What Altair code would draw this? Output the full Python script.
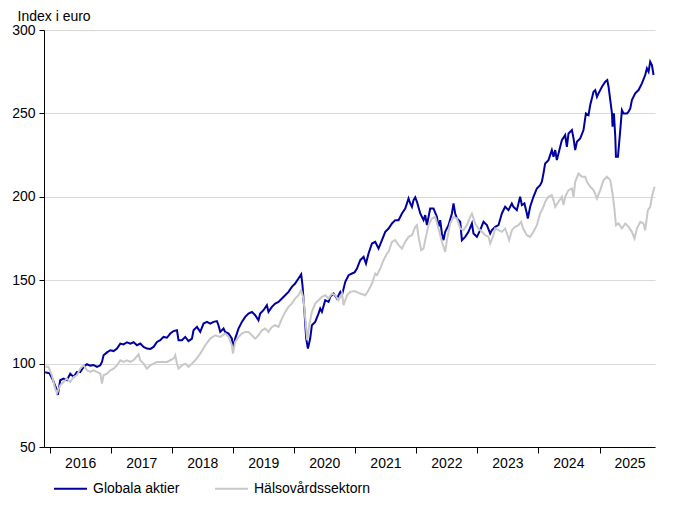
import altair as alt
import pandas as pd
import numpy as np

# Decimal years and index values
global_t = [2015.918, 2015.989, 2016.044, 2016.098, 2016.126, 2016.164, 2016.218, 2016.274, 2016.328, 2016.382,
            2016.437, 2016.492, 2016.546, 2016.601, 2016.655, 2016.709, 2016.765, 2016.819, 2016.847, 2016.873,
            2016.929, 2016.983, 2017.037, 2017.093, 2017.147, 2017.201, 2017.257, 2017.311, 2017.365, 2017.421,
            2017.475, 2017.529, 2017.584, 2017.639, 2017.693, 2017.748, 2017.802, 2017.856, 2017.912, 2017.966,
            2018.020, 2018.076, 2018.102, 2018.158, 2018.212, 2018.266, 2018.322, 2018.348, 2018.404, 2018.458,
            2018.512, 2018.568, 2018.622, 2018.676, 2018.731, 2018.757, 2018.786, 2018.840, 2018.867, 2018.922,
            2018.977, 2018.994, 2019.031, 2019.085, 2019.141, 2019.195, 2019.249, 2019.305, 2019.359, 2019.413,
            2019.441, 2019.495, 2019.551, 2019.577, 2019.633, 2019.687, 2019.741, 2019.797, 2019.851, 2019.905,
            2019.960, 2020.014, 2020.068, 2020.113, 2020.134, 2020.167, 2020.195, 2020.223, 2020.260, 2020.288,
            2020.342, 2020.396, 2020.424, 2020.452, 2020.506, 2020.560, 2020.588, 2020.642, 2020.698, 2020.752,
            2020.780, 2020.834, 2020.888, 2020.944, 2020.986, 2021.025, 2021.079, 2021.134, 2021.173, 2021.215,
            2021.271, 2021.325, 2021.379, 2021.435, 2021.489, 2021.543, 2021.599, 2021.653, 2021.707, 2021.763,
            2021.817, 2021.871, 2021.899, 2021.927, 2021.953, 2021.981, 2022.009, 2022.063, 2022.117, 2022.144,
            2022.172, 2022.226, 2022.280, 2022.336, 2022.362, 2022.390, 2022.418, 2022.444, 2022.472, 2022.526,
            2022.582, 2022.608, 2022.636, 2022.664, 2022.718, 2022.746, 2022.800, 2022.854, 2022.910, 2022.936,
            2022.992, 2023.046, 2023.100, 2023.156, 2023.210, 2023.238, 2023.292, 2023.346, 2023.401, 2023.455,
            2023.509, 2023.565, 2023.591, 2023.647, 2023.701, 2023.729, 2023.771, 2023.811, 2023.827, 2023.865,
            2023.919, 2023.975, 2024.029, 2024.057, 2024.083, 2024.111, 2024.165, 2024.220, 2024.247, 2024.275,
            2024.302, 2024.329, 2024.384, 2024.438, 2024.466, 2024.493, 2024.548, 2024.575, 2024.602, 2024.630,
            2024.684, 2024.738, 2024.777, 2024.820, 2024.848, 2024.902, 2024.930, 2024.958, 2024.984, 2025.040,
            2025.094, 2025.127, 2025.148, 2025.176, 2025.204, 2025.213, 2025.236, 2025.258, 2025.269, 2025.302,
            2025.340, 2025.367, 2025.394, 2025.450, 2025.476, 2025.504, 2025.531, 2025.585, 2025.640, 2025.695,
            2025.749, 2025.777, 2025.804, 2025.831, 2025.859, 2025.886]
global_v = [94.8, 94.2, 90.2, 85.2, 81.2, 90, 91, 90, 94, 92,
            95, 95, 98, 99.6, 98.8, 99.2, 98, 99, 101, 105,
            106.7, 108, 107.5, 109, 112, 111.5, 112.8, 112, 112.8, 111,
            112, 110, 109, 108.8, 110, 113, 114, 116, 115.5, 118,
            119.5, 120, 114, 114, 116, 113.5, 115, 120, 122, 119,
            124, 125, 124, 125, 125.5, 123, 119, 121, 119, 118,
            115, 109, 115, 121, 125, 128, 130, 131, 129, 126,
            130, 132, 135, 131, 134, 136, 137, 139, 141, 143,
            146, 148, 151, 153.5, 147, 131, 115, 109, 115, 123,
            125, 130, 133, 131, 138, 137, 140, 142, 139, 143,
            141, 149, 153, 154, 154.7, 157, 162, 164, 160, 166,
            172, 173, 169, 174, 179, 181, 184, 186, 186, 190,
            193, 199, 196, 194, 198, 199.7, 197, 190, 186, 189,
            183, 193, 193, 188, 182, 186, 178, 174, 179, 183,
            190, 196, 190, 187, 185, 174, 176, 179, 184, 178,
            176, 180, 185, 183, 178, 180, 182, 183, 190, 194,
            192, 196, 194, 192, 200, 195, 196, 190, 187, 194,
            200, 205, 207, 209, 214, 220, 222, 228, 224, 228,
            222, 226, 234, 237, 230, 238, 240, 235, 228, 233,
            235, 240, 250, 249, 255, 263, 264, 260, 262, 266,
            269, 270, 266, 258, 250, 242, 250, 236, 224, 224,
            240, 252, 250, 250, 251, 253, 258, 262, 264, 268,
            273, 277, 275, 281, 279, 273]

health_t = [2015.918, 2015.972, 2016.028, 2016.082, 2016.110, 2016.164, 2016.218, 2016.274, 2016.328, 2016.382,
            2016.437, 2016.492, 2016.546, 2016.601, 2016.655, 2016.709, 2016.765, 2016.819, 2016.847, 2016.873,
            2016.929, 2016.983, 2017.037, 2017.093, 2017.147, 2017.201, 2017.257, 2017.311, 2017.365, 2017.447,
            2017.475, 2017.529, 2017.584, 2017.639, 2017.693, 2017.748, 2017.802, 2017.856, 2017.912, 2017.966,
            2018.020, 2018.048, 2018.076, 2018.102, 2018.158, 2018.212, 2018.266, 2018.322, 2018.376, 2018.458,
            2018.540, 2018.622, 2018.704, 2018.786, 2018.867, 2018.922, 2018.977, 2018.994, 2019.031, 2019.085,
            2019.141, 2019.195, 2019.249, 2019.305, 2019.359, 2019.413, 2019.469, 2019.523, 2019.577, 2019.633,
            2019.687, 2019.741, 2019.797, 2019.851, 2019.905, 2019.960, 2020.014, 2020.068, 2020.113, 2020.150,
            2020.190, 2020.211, 2020.244, 2020.288, 2020.342, 2020.396, 2020.452, 2020.506, 2020.560, 2020.616,
            2020.670, 2020.724, 2020.780, 2020.806, 2020.862, 2020.916, 2020.986, 2021.079, 2021.161, 2021.215,
            2021.271, 2021.325, 2021.353, 2021.407, 2021.461, 2021.517, 2021.543, 2021.599, 2021.653, 2021.707,
            2021.763, 2021.817, 2021.871, 2021.927, 2021.981, 2022.009, 2022.035, 2022.079, 2022.117, 2022.144,
            2022.199, 2022.254, 2022.308, 2022.362, 2022.418, 2022.472, 2022.500, 2022.554, 2022.608, 2022.664,
            2022.718, 2022.772, 2022.828, 2022.882, 2022.910, 2022.964, 2023.018, 2023.074, 2023.128, 2023.182,
            2023.210, 2023.264, 2023.292, 2023.346, 2023.401, 2023.455, 2023.521, 2023.565, 2023.619, 2023.673,
            2023.717, 2023.750, 2023.811, 2023.865, 2023.919, 2023.975, 2024.029, 2024.083, 2024.111, 2024.165,
            2024.220, 2024.247, 2024.275, 2024.329, 2024.384, 2024.411, 2024.438, 2024.493, 2024.548, 2024.575,
            2024.602, 2024.656, 2024.712, 2024.766, 2024.794, 2024.848, 2024.902, 2024.958, 2025.012, 2025.066,
            2025.122, 2025.176, 2025.213, 2025.246, 2025.269, 2025.312, 2025.367, 2025.422, 2025.476, 2025.531,
            2025.574, 2025.613, 2025.668, 2025.721, 2025.749, 2025.793, 2025.831, 2025.859, 2025.902]
health_v = [98.2, 98, 93, 85, 82.2, 87, 89, 91, 89, 92,
            93, 97, 99, 96, 95, 96, 95, 94, 88, 93,
            94, 96, 97, 99, 102, 101, 102, 101, 102, 105.5,
            102, 100, 97, 99, 100, 101, 101, 101, 101, 102,
            103, 105, 100, 97, 99, 100, 98, 100, 102, 106,
            111, 115, 117, 116, 118, 116, 111, 106, 113, 116,
            118, 119, 119, 117, 115, 117, 120, 121, 119, 122,
            123, 122, 127, 131, 134, 136, 139, 141, 144, 139,
            123, 114, 123, 131, 136, 138, 140, 141, 139, 142,
            141, 138, 142, 135, 141, 143, 143.5, 142, 141, 144,
            148, 154, 153, 157, 162, 166, 167, 173, 174, 171,
            169, 173, 176, 177, 182, 183, 176, 168, 169, 174,
            183, 187, 188, 181, 173, 167, 174, 184, 188, 187,
            181, 180, 183, 188, 190, 184, 181, 179, 177, 176,
            172, 177, 181, 180, 179, 181, 174, 180, 182, 183,
            185, 181, 177, 176, 179, 183, 190, 194, 197, 200,
            201, 198, 194, 197, 200, 195, 200, 204, 205, 200,
            209, 214, 212, 212, 209, 206, 204, 199, 204, 210,
            212, 210, 202, 192, 183, 184, 181, 184, 182, 179,
            175, 181, 185, 184, 180, 192, 194, 200, 206]

series_names = ["Globala aktier", "Hälsovårdssektorn"]
series_colors = ["#0000a0", "#c8c8c8"]
year_ticks = list(range(2016, 2026))


def to_date(y):
    yr = int(np.floor(y))
    start = pd.Timestamp(yr, 1, 1)
    end = pd.Timestamp(yr + 1, 1, 1)
    return (start + (end - start) * (y - yr)).strftime("%Y-%m-%dT%H:%M:%S")


rows = []
for i, (ts, vs) in enumerate([(global_t, global_v), (health_t, health_v)]):
    for t, v in zip(ts, vs):
        rows.append({"date": to_date(t), "value": v, "serie": series_names[i], "ord": i})
df = pd.DataFrame(rows)

FONT = "Liberation Sans"

chart = alt.Chart(df).mark_line(strokeWidth=2, interpolate="linear").encode(
    x=alt.X(
        "date:T",
        scale=alt.Scale(domain=[alt.DateTime(year=2015, month=11, date=25),
                                alt.DateTime(year=2025, month=11, date=29)]),
        axis=alt.Axis(
            title=None,
            values=[alt.DateTime(year=y, month=1, date=1) for y in year_ticks],
            format="%Y",
            grid=False,
            tickSize=6,
            labelOffset=30,
            labelPadding=3,
            labelFlush=False,
            labelOverlap=False,
            domainColor="black",
            tickColor="black",
        ),
    ),
    y=alt.Y(
        "value:Q",
        scale=alt.Scale(domain=[50, 300], nice=False, zero=False),
        axis=alt.Axis(
            title="Index i euro",
            titleAngle=0,
            titleAlign="left",
            titleBaseline="alphabetic",
            titleX=-27,
            titleY=-10,
            titleFontWeight="normal",
            titleFontSize=14,
            titleColor="black",
            titleFont=FONT,
            values=[50, 100, 150, 200, 250, 300],
            grid=True,
            gridColor="#d9d9d9",
            tickSize=5,
            labelPadding=4,
            domainColor="black",
            tickColor="black",
        ),
    ),
    color=alt.Color(
        "serie:N",
        scale=alt.Scale(domain=series_names, range=series_colors),
        legend=alt.Legend(
            title=None,
            orient="none",
            direction="horizontal",
            legendX=9,
            legendY=441,
            symbolType="stroke",
            symbolSize=1089,
            symbolStrokeWidth=2,
            labelOffset=5,
            columnPadding=31,
            padding=0,
            labelFontSize=14,
            labelFont=FONT,
            labelColor="black",
        ),
    ),
    order=alt.Order("ord:Q"),
).properties(
    width=611,
    height=417,
    autosize=alt.AutoSizeParams(type="none"),
    padding={"left": 36, "top": 22, "right": 17, "bottom": 55},
).configure(
    font=FONT,
).configure_axis(
    labelFont=FONT,
    labelFontSize=14,
    labelColor="black",
    domainWidth=1,
    tickWidth=1,
).configure_view(
    stroke=None,
)

chart.save("out.html", embed_options={"renderer": "svg", "actions": False})
